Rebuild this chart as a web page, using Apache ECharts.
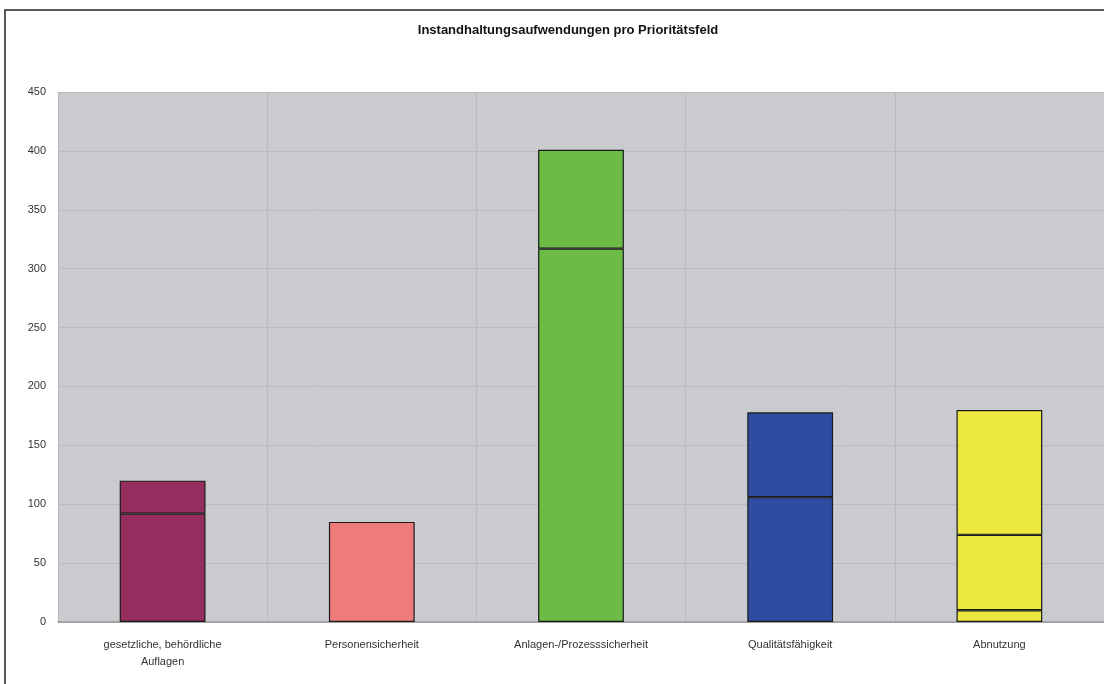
<!DOCTYPE html>
<html>
<head>
<meta charset="utf-8">
<script src="https://cdn.jsdelivr.net/npm/echarts@6/dist/echarts.min.js"></script>
<style>
  html, body { margin: 0; padding: 0; background: #fff; }
  #chart { width: 1104px; height: 684px; }
</style>
</head>
<body>
<div id="chart"></div>
<script>
// Daten
const categories = ['gesetzliche, behördliche\nAuflagen', 'Personensicherheit', 'Anlagen-/Prozesssicherheit', 'Qualitätsfähigkeit', 'Abnutzung'];
const teil1 = [92, 85, 317, 106, 10];
const teil2 = [28, '-', 84, 72, 64];
const teil3 = ['-', '-', '-', '-', 106];
const yTicks = [0, 50, 100, 150, 200, 250, 300, 350, 400, 450];
const farben = ['#952d5e', '#f07b7b', '#6cbb45', '#2e4ca0', '#ede83f'];

const chart = echarts.init(document.getElementById('chart'));

const balken = function (name, data) {
  return {
    name: name,
    type: 'bar',
    stack: 'summe',
    barWidth: '41%',
    data: data,
    itemStyle: {
      color: function (p) { return farben[p.dataIndex]; },
      borderColor: '#1a1a1a',
      borderWidth: 1.2
    }
  }
}

const optionData = {
  backgroundColor: '#fff',
  animation: false,
  title: {
    text: 'Instandhaltungsaufwendungen pro Prioritätsfeld',
    left: 563,
    textAlign: 'center',
    top: 19,
    textStyle: {
      fontFamily: 'Liberation Sans',
      fontWeight: 'bold',
      fontSize: 13,
      color: '#111'
    }
  },
  graphic: [{
    type: 'rect',
    shape: { x: 5, y: 10, width: 1110, height: 700 },
    style: { fill: null, stroke: '#222', lineWidth: 1.5 },
    silent: true
  }],
  grid: {
    left: 58,
    right: 0,
    top: 92,
    bottom: 62,
    show: true,
    backgroundColor: '#c9cbce',
    borderWidth: 0
  },
  xAxis: {
    type: 'category',
    data: categories,
    axisLine: { lineStyle: { color: '#9a9a9a', width: 1.5 } },
    axisTick: { show: false },
    splitLine: { show: true, lineStyle: { color: '#b9bbbe', width: 1 } },
    axisLabel: {
      interval: 0,
      margin: 14,
      fontFamily: 'Liberation Sans',
      fontSize: 11,
      lineHeight: 17,
      color: '#333'
    }
  },
  yAxis: {
    type: 'value',
    min: 0,
    max: 450,
    interval: 50,
    axisLine: { show: false },
    axisTick: { show: false },
    splitLine: { lineStyle: { color: '#b9bbbe', width: 1 } },
    axisLabel: {
      margin: 12,
      fontFamily: 'Liberation Sans',
      fontSize: 11,
      color: '#333',
      formatter: function (v) { return yTicks.indexOf(v) >= 0 ? String(v) : ''; }
    }
  },
  series: [
    balken('Teil 1', teil1),
    balken('Teil 2', teil2),
    balken('Teil 3', teil3)
  ]
}
chart.setOption(optionData)
</script>
</body>
</html>
